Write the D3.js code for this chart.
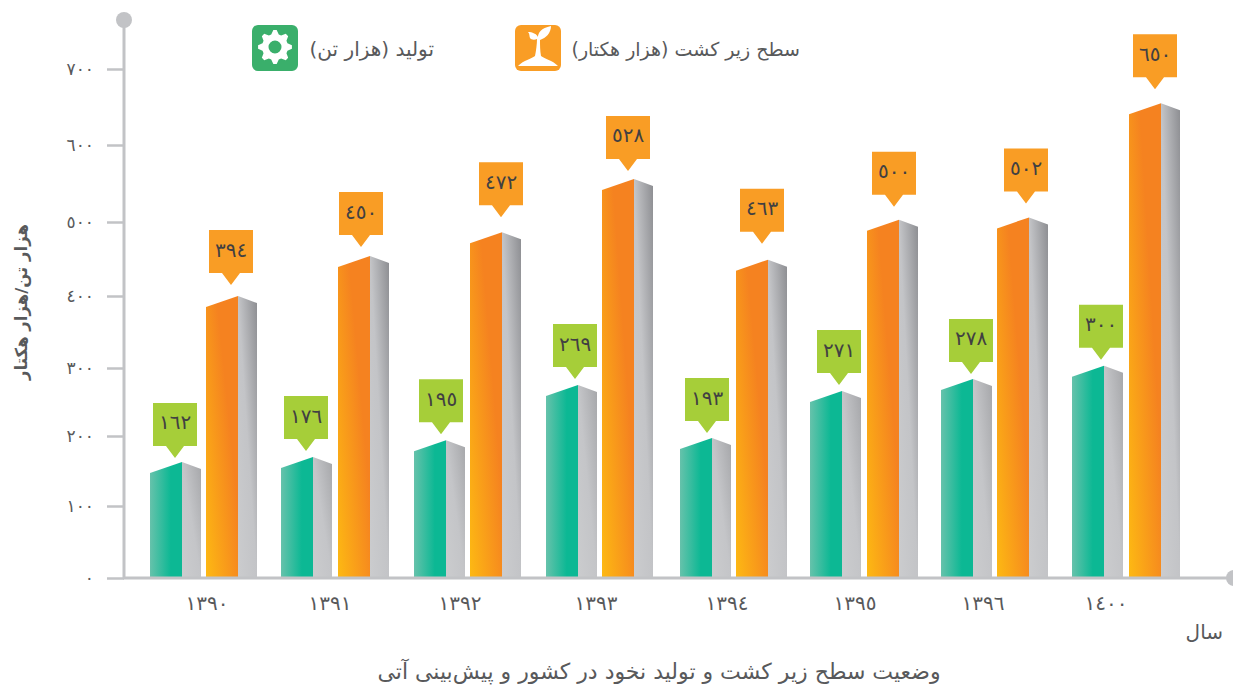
<!DOCTYPE html>
<html lang="fa"><head><meta charset="utf-8">
<script src="https://cdn.jsdelivr.net/npm/d3@7"></script>
<style>html,body{margin:0;padding:0;background:#fff}svg{display:block}text{font-family:"DejaVu Sans",sans-serif}</style>
</head><body><div id="c"></div>
<script>
const years=[1390,1391,1392,1393,1394,1395,1396,1400];
const yTicks=[0,100,200,300,400,500,600,700];
// printed labels
const productionLabels=[162,176,195,269,193,271,278,300];
const areaLabels=[394,450,472,528,463,500,502,650];
// bar heights as read against the (uneven) axis
const productionBars=[163,170,194,275,197,266,284,303];
const areaBars=[400,454,486,556,449,503,506,655];
const legendProduction="تولید (هزار تن)";
const legendArea="سطح زیر کشت (هزار هکتار)";
const yTitle="هزار تن/هزار هکتار";
const xTitle="سال";
const caption="وضعیت سطح زیر کشت و تولید نخود در کشور و پیش‌بینی آتی";

const W=1233,H=686;
const fa=n=>String(n).replace(/\d/g,d=>"٠١٢٣٤٥٦٧٨٩"[d]);
const svg=d3.select("#c").append("svg").attr("width",W).attr("height",H);
const defs=svg.append("defs");
function grad(id,p,stops){const g=defs.append("linearGradient").attr("id",id).attr("x1",p[0]).attr("y1",p[1]).attr("x2",p[2]).attr("y2",p[3]);
 stops.forEach(s=>g.append("stop").attr("offset",s[0]).attr("stop-color",s[1]));}
grad("gFront",[0,0,1,0],[[0,"#66c2ab"],[.65,"#0cb894"],[1,"#0cb894"]]);
grad("oFront",[0,1,1,.1],[[0,"#fdb913"],[.68,"#f58220"],[1,"#f58220"]]);
grad("side",[0,1,1,0],[[0,"#cbccce"],[.5,"#c3c4c7"],[1,"#8d8e92"]]);
grad("sideG",[0,1,1,0],[[0,"#cbccce"],[.5,"#c4c5c8"],[1,"#a6a7aa"]]);

const y=d3.scaleLinear().domain(yTicks).range([578,506,436,368,296,222,145,69]);
const gx=d3.scaleOrdinal().domain(years).range([150,281,414,546,680,810,941,1072]);
const ox=d3.scaleOrdinal().domain(years).range([206,338,470,602,736,867,997,1129]);
const lx=d3.scaleOrdinal().domain(years).range([207,330,460,596,727,855,983,1106]);
const FW=32,SW=19,FD=11,SD=7;

function bars(xs,vals,fill,side,cls){
 const g=svg.append("g").attr("class",cls).selectAll("g").data(years.map((yr,i)=>({yr,v:vals[i]}))).join("g");
 g.append("path").attr("fill",fill).attr("d",d=>{const x=xs(d.yr),t=y(d.v);return `M${x},${y(0)}V${t+FD}L${x+FW},${t}V${y(0)}Z`;});
 g.append("path").attr("fill",side).attr("d",d=>{const x=xs(d.yr)+FW,t=y(d.v);return `M${x},${y(0)}V${t}L${x+SW},${t+SD}V${y(0)}Z`;});
}
bars(gx,productionBars,"url(#gFront)","url(#sideG)","prod");
bars(ox,areaBars,"url(#oFront)","url(#side)","area");

// axes
const axCol="#c2c3c6";
const ay=svg.append("g").attr("transform","translate(124,0)").call(d3.axisLeft(y).tickValues(yTicks).tickSize(17).tickPadding(13).tickFormat(fa));
ay.select(".domain").remove();
ay.selectAll("line").attr("stroke",axCol).attr("stroke-width",2.5);
ay.selectAll("text").attr("fill","#58595b").attr("font-size",17).attr("letter-spacing",2.5);
svg.append("line").attr("x1",124).attr("x2",124).attr("y1",20).attr("y2",579).attr("stroke",axCol).attr("stroke-width",3);
svg.append("line").attr("x1",123).attr("x2",W).attr("y1",y(0)).attr("y2",y(0)).attr("stroke",axCol).attr("stroke-width",3);
svg.append("circle").attr("cx",124).attr("cy",20).attr("r",8).attr("fill",axCol);
svg.append("circle").attr("cx",W+1).attr("cy",y(0)).attr("r",8).attr("fill",axCol);

svg.append("g").selectAll("text").data(years).join("text").attr("x",d=>lx(d)).attr("y",604).attr("text-anchor","middle").attr("dominant-baseline","middle").attr("font-size",20).attr("fill","#58595b").text(fa);

// callouts
function callouts(vals,labels,xs,off,gap,col){
 const g=svg.append("g").selectAll("g").data(years.map((yr,i)=>({yr,i}))).join("g")
  .attr("transform",d=>`translate(${xs(d.yr)+FW-off[d.i]},${y(vals[d.i])-gap[d.i]})`);
 g.append("path").attr("fill",col).attr("d","M-22,0H22V43H9L0,55L-9,43H-22Z");
 g.append("text").attr("y",21).attr("text-anchor","middle").attr("dominant-baseline","middle").attr("font-size",20).attr("fill","#414042").text(d=>fa(labels[d.i]));
}
callouts(productionBars,productionLabels,gx,[7,7,5,3,5,3,2,3],[59,61,61,61,60,61,60,61],"#a6ce39");
callouts(areaBars,areaLabels,ox,[7,9,1,6,6,5,3,6],[66,64,70,63,71,68,69,69],"#f99d25");

// legend
function tile(x,col){svg.append("rect").attr("x",x).attr("y",25).attr("width",46).attr("height",46).attr("rx",6).attr("fill",col);}
tile(252,"#3aaf6b");tile(515,"#f99d25");
const teeth=8,gr=d3.range(teeth*4).map(i=>{const a=i/(teeth*4)*2*Math.PI-Math.PI/teeth/4;const r=(i%4<2)?17:13;return [r*Math.cos(a),r*Math.sin(a)];});
svg.append("path").attr("transform","translate(275,47)").attr("fill","#fff").attr("fill-rule","evenodd")
 .attr("d",d3.line().curve(d3.curveLinearClosed)(gr)+"M6.5,0A6.5,6.5 0 1 0 -6.5,0A6.5,6.5 0 1 0 6.5,0Z");
svg.append("path").attr("transform","translate(538,48)").attr("fill","#fff")
 .attr("d","M-20,18C-14,12 -7,11 -3,8C-2,3 -1,-4 -1,-9C-3,-8 -7,-8 -8,-10C-9,-12 -8,-14 -10,-16C-6,-16 -1,-14 0,-11C0,-15 3,-20 13,-22C13,-15 8,-10 2,-8C2,-3 2,3 3,8C7,11 14,12 20,18Z");

const T=(x,yy,s,fs)=>svg.append("text").attr("x",x).attr("y",yy).attr("font-size",fs).attr("fill","#58595b").attr("dominant-baseline","middle").text(s);
T(434,50,legendProduction,20).attr("text-anchor","end");
T(800,50,legendArea,19).attr("text-anchor","end");
T(1223,633,xTitle,20).attr("text-anchor","end");
T(659,673,caption,22).attr("text-anchor","middle");
svg.append("text").attr("transform","translate(22,302) rotate(-90)").attr("text-anchor","middle").attr("dominant-baseline","middle").attr("font-size",16.5).attr("font-weight","bold").attr("fill","#58595b").text(yTitle);
</script></body></html>
